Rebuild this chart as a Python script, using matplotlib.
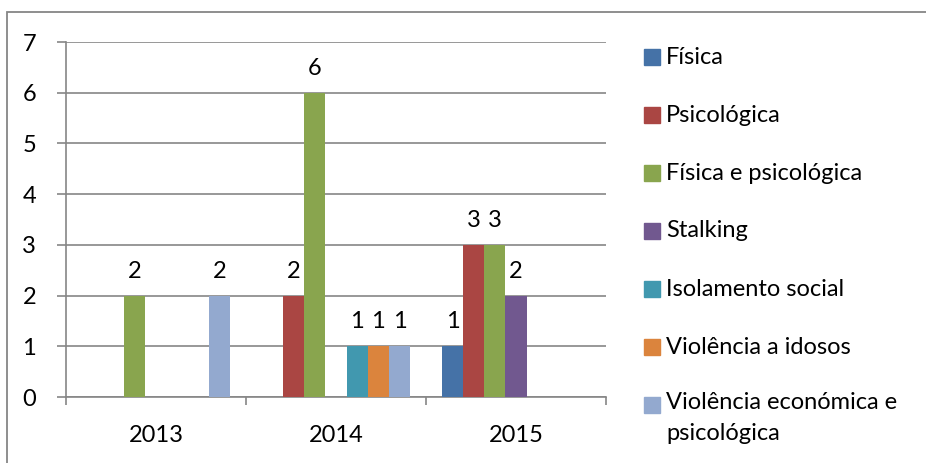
import numpy as np
import matplotlib
matplotlib.use("Agg")
import matplotlib.pyplot as plt
from matplotlib.patches import Rectangle

# dados por ano
anos = ["2013", "2014", "2015"]
tipos = ["Física", "Psicológica", "Física e psicológica", "Stalking",
         "Isolamento social", "Violência a idosos",
         "Violência económica e\npsicológica"]
fisica = [0, 0, 1]
psicologica = [0, 2, 3]
fisica_psico = [2, 6, 3]
stalking = [0, 0, 2]
isolamento = [0, 1, 0]
idosos = [0, 1, 0]
economica = [2, 1, 0]
cores = ["#4572A7", "#AA4643", "#89A54E", "#71588F",
         "#4198AF", "#DB843D", "#93A9CF"]

series = [fisica, psicologica, fisica_psico, stalking, isolamento, idosos, economica]

plt.rcParams['font.family'] = ['Lato', 'DejaVu Sans']
cinza = "#868686"
fs = 17

fig = plt.figure(figsize=(9.26, 4.63), dpi=100)
ax = fig.add_axes([66/926, 1-397/463, 540/926, 355/463])

x = np.arange(len(anos))
n = len(series)
w = 1/(n + 1.5)
for i, (vals, cor) in enumerate(zip(series, cores)):
    pos = x + (i - (n-1)/2)*w
    barras = ax.bar(pos, vals, w, color=cor, zorder=3)
    for b, v in zip(barras, vals):
        if v > 0:
            ax.annotate(str(v), (b.get_x() + b.get_width()/2, v),
                        xytext=(0, 10), textcoords="offset points",
                        ha="center", va="bottom", fontsize=fs)

ax.set_xlim(-0.5, 2.5)
ax.set_ylim(0, 7)
ax.set_yticks(range(8))
ax.grid(axis="y", color=cinza, linewidth=1.2, zorder=0)
for s in ["top", "right"]:
    ax.spines[s].set_visible(False)
for s in ["left", "bottom"]:
    ax.spines[s].set_color(cinza)
    ax.spines[s].set_linewidth(1.2)

ax.set_xticks([-0.5, 0.5, 1.5, 2.5])
ax.set_xticklabels([])
ax.set_xticks(x, minor=True)
ax.set_xticklabels(anos, minor=True)
ax.tick_params(axis="x", which="major", length=6, color=cinza, width=1.2, direction="out")
ax.tick_params(axis="x", which="minor", length=0, pad=20, labelsize=fs)
ax.tick_params(axis="y", length=6.5, color=cinza, width=1.2, pad=15, labelsize=fs)

# moldura do gráfico
fig.patches.append(Rectangle((7/926, -0.1), 1.1, 1-12/463+0.1,
                             transform=fig.transFigure, fill=False,
                             edgecolor=cinza, linewidth=1.3))

# legenda
for i, (nome, cor) in enumerate(zip(tipos, cores)):
    yc = 57 + i*58.0
    fig.patches.append(Rectangle((644/926, 1-(yc+8)/463), 16/926, 16/463,
                                 transform=fig.transFigure, color=cor))
    if "\n" in nome:
        fig.text(666/926, 1-(yc-13)/463, nome, fontsize=fs, va="top",
                 ha="left", linespacing=1.6)
    else:
        fig.text(666/926, 1-yc/463, nome, fontsize=fs, va="center", ha="left")

fig.savefig("out.png", dpi=100)
